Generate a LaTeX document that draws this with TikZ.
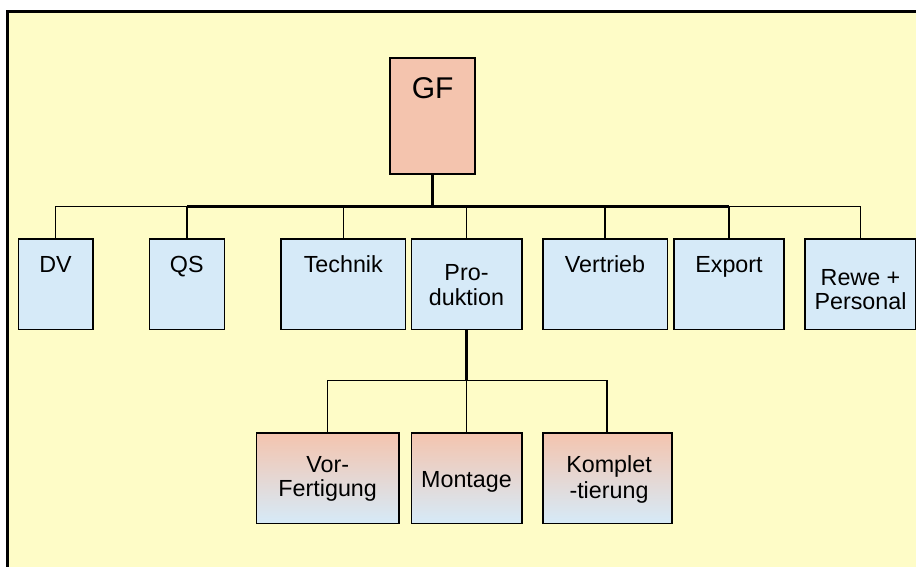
\documentclass[tikz,border=0pt]{standalone}
\usepackage{fontspec}
\setmainfont{Liberation Sans}
\definecolor{bgyellow}{RGB}{254,252,199}
\definecolor{salmon}{RGB}{244,196,174}
\definecolor{lblue}{RGB}{214,234,248}
\begin{document}
\begin{tikzpicture}[x=1pt,y=-1pt,
  basebox/.style={draw=black, line width=1.6pt, inner sep=0pt, minimum height=90.6pt},
  bluebox/.style={basebox, fill=lblue},
  gradbox/.style={basebox, top color=salmon, bottom color=lblue, middle color=salmon!50!lblue},
  lbl/.style={font=\fontsize{23.3}{25}\selectfont, inner sep=0pt, anchor=base},
  thinln/.style={line width=1.5pt},
  thickln/.style={line width=2.6pt},
  trunkln/.style={line width=3.1pt}]
\useasboundingbox (0,0) rectangle (916,567);
\clip (0,0) rectangle (916,567);
\fill[white] (0,0) rectangle (916,567);
\filldraw[fill=bgyellow, draw=black, line width=2.2pt] (7.5,11.5) rectangle (940,590);

% top
\node[draw=black, line width=1.6pt, fill=salmon, minimum width=85.3pt, minimum height=116pt, inner sep=0pt] (gf) at (432.6,116) {};
\node[font=\fontsize{30}{32}\selectfont, inner sep=0pt, anchor=base] (gft) at (432.6,98.5) {GF};

% first row
\node[bluebox, minimum width=74.4pt]  (dv) at (55.5,284) {};
\node[bluebox, minimum width=75pt]    (qs) at (186.8,284) {};
\node[bluebox, minimum width=124.7pt] (te) at (343.3,284) {};
\node[bluebox, minimum width=110.4pt] (pr) at (466.5,284) {};
\node[bluebox, minimum width=124.6pt] (ve) at (605,284) {};
\node[bluebox, minimum width=110pt]   (ex) at (729,284) {};
\node[bluebox, minimum width=111pt]   (rw) at (860.5,284) {};

\node[lbl] (dvt) at (55.5,272) {DV};
\node[lbl] (qst) at (186.8,272) {QS};
\node[lbl] (tet) at (343.3,272) {Technik};
\node[lbl] (prt1) at (466.5,280) {Pro-};
\node[lbl] (prt2) at (466.5,305) {duktion};
\node[lbl] (vet) at (605,272) {Vertrieb};
\node[lbl] (ext) at (729,272) {Export};
\node[lbl] (rwt1) at (860.5,285) {Rewe +};
\node[lbl] (rwt2) at (860.5,309) {Personal};

% second row
\node[gradbox, minimum width=142.7pt] (vf) at (327.7,478) {};
\node[gradbox, minimum width=110.4pt] (mo) at (466.5,478) {};
\node[gradbox, minimum width=129pt]   (kt) at (607.2,478) {};

\node[lbl] (vft1) at (327.7,472) {Vor-};
\node[lbl] (vft2) at (327.7,496) {Fertigung};
\node[lbl] (mot) at (466.5,487) {Montage};
\node[lbl] (ktt1) at (609,472) {Komplet};
\node[lbl] (ktt2) at (609,498) {-tierung};

% connectors level 1
\coordinate (bus) at (432.6,206.7);
\draw[thickln] (gf.south) -- (bus);
\draw[thinln] (dv.north) |- (bus -| qs.north);
\draw[thickln] (bus -| qs.north) -- (bus -| ex.north);
\draw[thinln] (bus -| ex.north) -| (rw.north);
\draw[thinln] (bus -| qs.north) -- (qs.north);
\draw[thinln] (bus -| te.north) -- (te.north);
\draw[thinln] (bus -| pr.north) -- (pr.north);
\draw[thinln] (bus -| ve.north) -- (ve.north);
\draw[thinln] (bus -| ex.north) -- (ex.north);

% connectors level 2
\coordinate (bus2) at (466.5,380.7);
\draw[trunkln] (pr.south) -- (bus2);
\draw[thinln] (vf.north) |- (bus2) -| (kt.north);
\draw[thinln] (bus2) -- (mo.north);
\end{tikzpicture}
\end{document}
